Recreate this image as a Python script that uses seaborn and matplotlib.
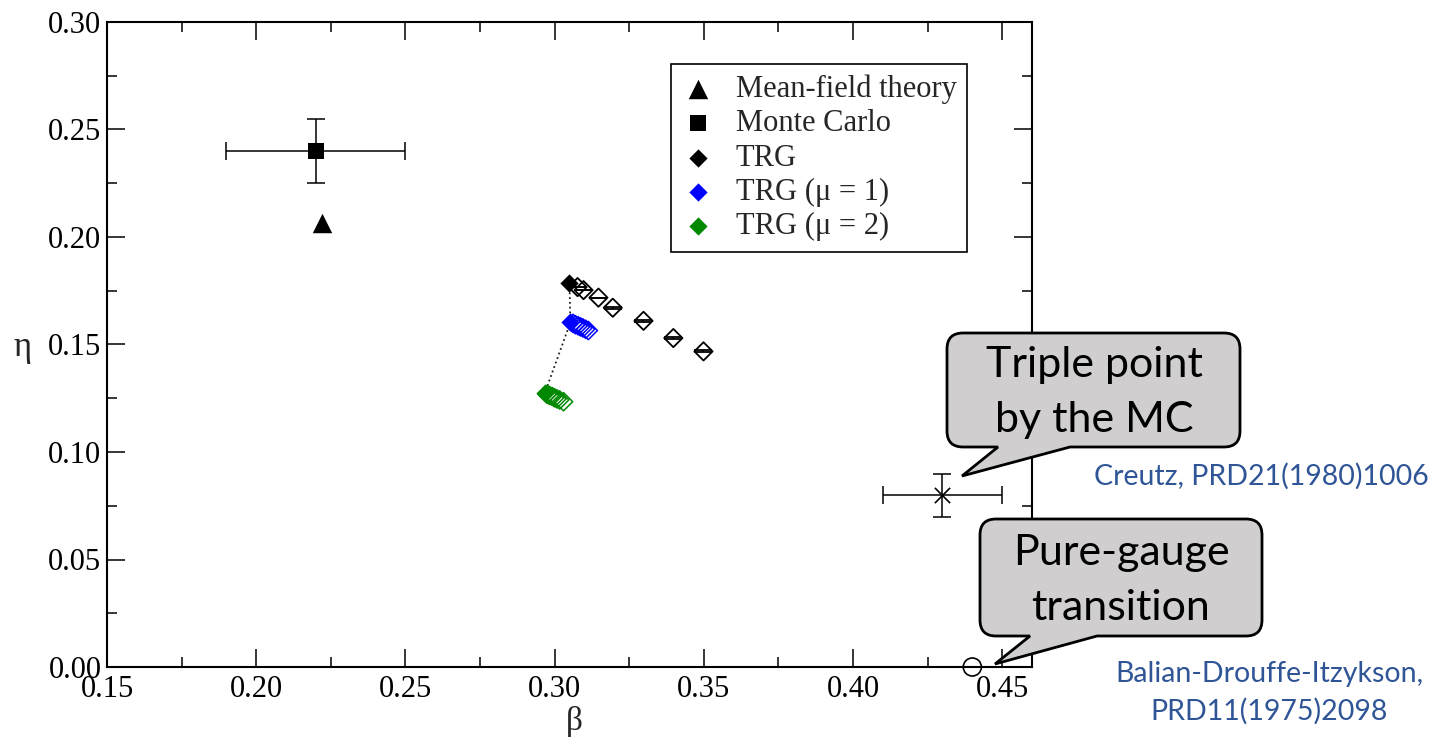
import matplotlib
matplotlib.use("Agg")
import matplotlib.pyplot as plt
import seaborn as sns
from matplotlib.path import Path
from matplotlib.patches import PathPatch
from matplotlib.ticker import MultipleLocator, FormatStrFormatter

# ---------------- data ----------------
mf_beta = [0.2222]
mf_eta = [0.2065]

mc_beta = [0.220]
mc_eta = [0.240]
mc_beta_err = [0.030]
mc_eta_err = [0.015]

trg_beta = [0.3050, 0.3077, 0.3097, 0.3147, 0.3195, 0.3298, 0.3398, 0.3499]
trg_eta = [0.1787, 0.1767, 0.1753, 0.1718, 0.1671, 0.1610, 0.1530, 0.1468]
trg_eta_err = [0.0, 0.0, 0.0, 0.0004, 0.0005, 0.0005, 0.0005]  # open points only

mu1_beta = [0.3053, 0.3062, 0.3070, 0.3079, 0.3087, 0.3095, 0.3104, 0.3113]
mu1_eta = [0.1603, 0.1598, 0.1592, 0.1587, 0.1582, 0.1577, 0.1571, 0.1565]

mu2_beta = [0.2967, 0.2975, 0.2983, 0.2992, 0.3000, 0.3008, 0.3017, 0.3030]
mu2_eta = [0.1273, 0.1268, 0.1263, 0.1258, 0.1252, 0.1247, 0.1242, 0.1234]

tp_beta = [0.430]
tp_eta = [0.080]
tp_beta_err = [0.020]
tp_eta_err = [0.010]

pg_beta = [0.440]
pg_eta = [0.000]

legend_labels = ["Mean-field theory", "Monte Carlo", "TRG",
                 "TRG (\u03bc = 1)", "TRG (\u03bc = 2)"]
x_label = "\u03b2"
y_label = "\u03b7"
callout1_lines = ["Triple point", "by the MC"]
callout2_lines = ["Pure-gauge", "transition"]
ref1 = "Creutz, PRD21(1980)1006"
ref2_lines = ["Balian-Drouffe-Itzykson,", "PRD11(1975)2098"]

# ---------------- style ----------------
sns.set_style("ticks")
SERIF = ["Liberation Serif", "DejaVu Serif"]
SANS = ["Lato", "DejaVu Sans"]
plt.rcParams["font.family"] = SERIF

W, H = 1444, 740
fig = plt.figure(figsize=(W / 100, H / 100), dpi=100)
fig.patch.set_facecolor("white")
ax = fig.add_axes([107 / W, 73 / H, 925 / W, 645 / H])
ax.set_facecolor("white")

# dotted connector between the filled TRG points
sns.lineplot(x=[trg_beta[0], mu1_beta[0], mu2_beta[0]],
             y=[trg_eta[0], mu1_eta[0], mu2_eta[0]],
             sort=False, estimator=None, color="#222222", linestyle=":",
             linewidth=1.3, ax=ax, zorder=1)

handles = []

# mean-field
sns.scatterplot(x=mf_beta, y=mf_eta, marker="^", s=14 ** 2, color="black",
                edgecolor="black", linewidth=0, ax=ax, zorder=4)
handles.append(ax.collections[-1])

# Monte Carlo
ax.errorbar(mc_beta, mc_eta, xerr=mc_beta_err, yerr=mc_eta_err, fmt="none",
            ecolor="black", elinewidth=1.1, capsize=6.5, capthick=1.1, zorder=3)
sns.scatterplot(x=mc_beta, y=mc_eta, marker="s", s=12 ** 2, color="black",
                edgecolor="black", linewidth=0, ax=ax, zorder=4)
handles.append(ax.collections[-1])

# TRG open points with their small error bars
ax.errorbar(trg_beta[1:], trg_eta[1:], yerr=trg_eta_err, fmt="none",
            ecolor="black", elinewidth=1.2, capsize=6.3, capthick=1.3, zorder=3)
sns.scatterplot(x=trg_beta[1:], y=trg_eta[1:], marker="D", s=9.3 ** 2,
                facecolor="none", edgecolor="black", linewidth=1.3,
                ax=ax, zorder=3)
sns.scatterplot(x=trg_beta[:1], y=trg_eta[:1], marker="D", s=9.3 ** 2,
                color="black", edgecolor="black", linewidth=0, ax=ax, zorder=4)
handles.append(ax.collections[-1])

# TRG mu = 1
sns.scatterplot(x=mu1_beta[1:], y=mu1_eta[1:], marker="D", s=9.3 ** 2,
                facecolor="none", edgecolor="#0000ff", linewidth=1.1,
                ax=ax, zorder=3)
sns.scatterplot(x=mu1_beta[:1], y=mu1_eta[:1], marker="D", s=9.3 ** 2,
                color="#0000ff", edgecolor="#0000ff", linewidth=0, ax=ax, zorder=4)
handles.append(ax.collections[-1])

# TRG mu = 2
sns.scatterplot(x=mu2_beta[1:], y=mu2_eta[1:], marker="D", s=9.3 ** 2,
                facecolor="none", edgecolor="#008800", linewidth=1.1,
                ax=ax, zorder=3)
sns.scatterplot(x=mu2_beta[:1], y=mu2_eta[:1], marker="D", s=9.3 ** 2,
                color="#008800", edgecolor="#008800", linewidth=0, ax=ax, zorder=4)
handles.append(ax.collections[-1])

# triple point (MC)
ax.errorbar(tp_beta, tp_eta, xerr=tp_beta_err, yerr=tp_eta_err, fmt="none",
            ecolor="black", elinewidth=1.1, capsize=6.5, capthick=1.1, zorder=3)
sns.scatterplot(x=tp_beta, y=tp_eta, marker="x", s=11 ** 2, color="black",
                linewidth=1.2, ax=ax, zorder=4)

# pure-gauge transition
sns.scatterplot(x=pg_beta, y=pg_eta, marker="o", s=13 ** 2, facecolor="none",
                edgecolor="black", linewidth=1.2, ax=ax, zorder=4, clip_on=False)

# ---------------- axes ----------------
ax.set_xlim(0.15, 0.46)
ax.set_ylim(0.0, 0.30)
ax.xaxis.set_major_locator(MultipleLocator(0.05))
ax.xaxis.set_minor_locator(MultipleLocator(0.025))
ax.yaxis.set_major_locator(MultipleLocator(0.05))
ax.yaxis.set_minor_locator(MultipleLocator(0.025))
ax.xaxis.set_major_formatter(FormatStrFormatter("%.2f"))
ax.yaxis.set_major_formatter(FormatStrFormatter("%.2f"))
ax.tick_params(which="both", direction="in", top=True, right=True,
               colors="black", width=1.1)
ax.tick_params(which="major", length=13)
ax.tick_params(which="minor", length=7)
ax.tick_params(axis="x", which="major", pad=6, labelsize=22)
ax.tick_params(axis="y", which="major", pad=4, labelsize=22)
for lab in ax.get_xticklabels() + ax.get_yticklabels():
    lab.set_family(SERIF)
for sp in ax.spines.values():
    sp.set_visible(True)
    sp.set_linewidth(1.5)
    sp.set_color("black")

ax.set_xlabel(x_label, fontsize=24, family=SERIF, va="center")
ax.xaxis.set_label_coords(0.505, -0.085)
ax.set_ylabel(y_label, fontsize=25, family=SERIF, rotation=0,
              ha="center", va="center")
ax.yaxis.set_label_coords(-0.091, 0.495)

leg = ax.legend(handles, legend_labels, loc="upper left",
                bbox_to_anchor=((671 - 107) / 925, (667 - 64) / 645),
                borderaxespad=0, frameon=True, fancybox=False, framealpha=1,
                edgecolor="black", prop={"family": SERIF, "size": 22},
                borderpad=0.35, handlelength=1.07, handletextpad=0.7,
                labelspacing=0.17, scatterpoints=1)
leg.get_frame().set_linewidth(1.2)

# ---------------- callouts ----------------
def fx(x):
    return x / W


def fy(y):
    return 1 - y / H


def callout(x0, y0, x1, y1, r, bl, br, tip):
    pts = [((x0 + r, y0), Path.MOVETO),
           ((x1 - r, y0), Path.LINETO),
           ((x1, y0), Path.CURVE3), ((x1, y0 + r), Path.CURVE3),
           ((x1, y1 - r), Path.LINETO),
           ((x1, y1), Path.CURVE3), ((x1 - r, y1), Path.CURVE3),
           ((br, y1), Path.LINETO),
           (tip, Path.LINETO),
           ((bl, y1), Path.LINETO),
           ((x0 + r, y1), Path.LINETO),
           ((x0, y1), Path.CURVE3), ((x0, y1 - r), Path.CURVE3),
           ((x0, y0 + r), Path.LINETO),
           ((x0, y0), Path.CURVE3), ((x0 + r, y0), Path.CURVE3),
           ((x0 + r, y0), Path.CLOSEPOLY)]
    verts = [(fx(p[0]), fy(p[1])) for p, _ in pts]
    codes = [c for _, c in pts]
    patch = PathPatch(Path(verts, codes), transform=fig.transFigure,
                      facecolor="#d0cece", edgecolor="black", linewidth=2.0,
                      joinstyle="miter", zorder=5)
    fig.add_artist(patch)


callout(947, 333, 1240, 447, 16, 998, 1070, (962, 476))
callout(980, 519, 1262, 636, 16, 1030, 1097, (995, 664))

for txt, yb in zip(callout1_lines, [377, 432]):
    fig.text(fx(1094), fy(yb), txt, ha="center", va="baseline", fontsize=31,
             family=SANS, color="black", zorder=6)
for txt, yb in zip(callout2_lines, [565, 620]):
    fig.text(fx(1121), fy(yb), txt, ha="center", va="baseline", fontsize=31,
             family=SANS, color="black", zorder=6)

REF_COLOR = "#2f5597"
fig.text(fx(1094), fy(485), ref1, ha="left", va="baseline", fontsize=20.5,
         family=SANS, color=REF_COLOR)
for txt, yb in zip(ref2_lines, [682, 720]):
    fig.text(fx(1269), fy(yb), txt, ha="center", va="baseline", fontsize=20.5,
             family=SANS, color=REF_COLOR)

fig.savefig("out.png", dpi=100, facecolor="white")
